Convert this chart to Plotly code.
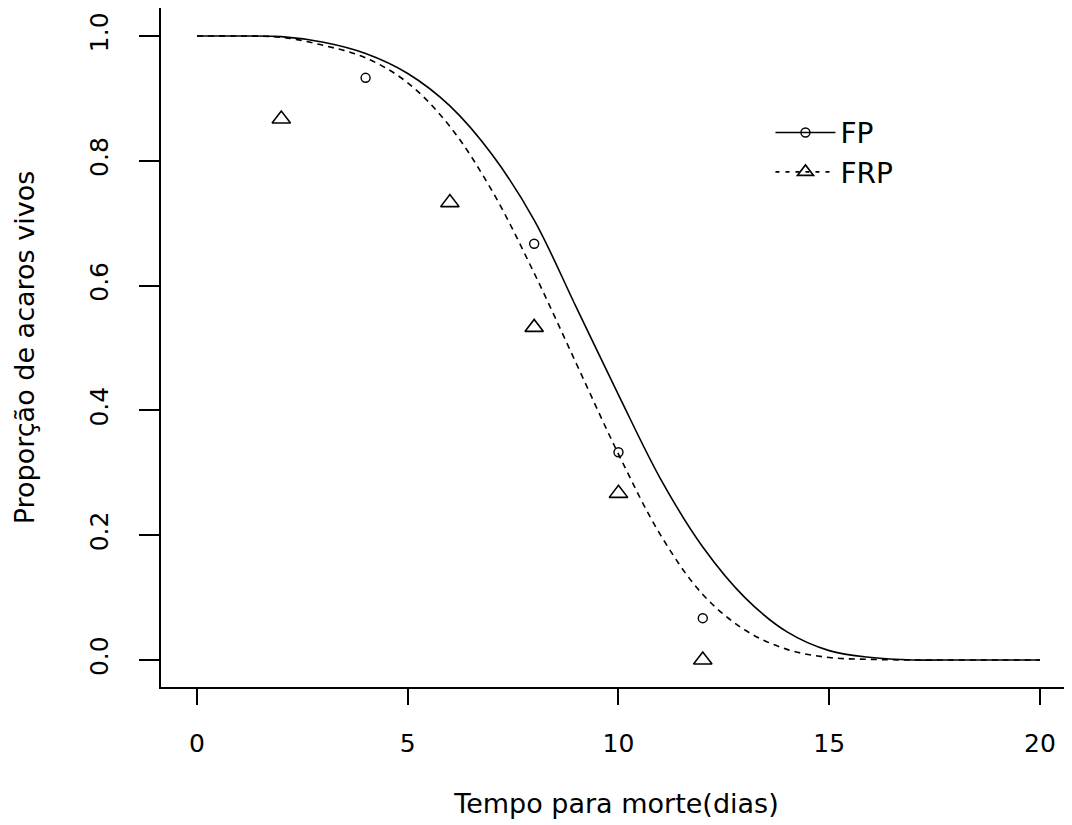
import plotly.graph_objects as go

# Fitted curves
t_curve = [0, 1, 2, 3, 4, 5, 6, 7, 8, 9, 10, 11, 12, 13, 14, 15, 16, 17, 18, 19, 20]
fp_curve = [1.0, 1.0, 0.999, 0.99, 0.972, 0.94, 0.888, 0.81, 0.705, 0.565, 0.425, 0.29,
            0.181, 0.10, 0.045, 0.015, 0.004, 0.0, 0.0, 0.0, 0.0]
frp_curve = [1.0, 1.0, 0.998, 0.985, 0.965, 0.925, 0.855, 0.752, 0.62, 0.475, 0.33, 0.2,
             0.105, 0.048, 0.017, 0.004, 0.001, 0.0, 0.0, 0.0, 0.0]

# Observed points
fp_t = [4, 8, 10, 12]
fp_obs = [0.933, 0.667, 0.333, 0.067]
frp_t = [2, 6, 8, 10, 12]
frp_obs = [0.867, 0.733, 0.533, 0.267, 0.0]

x_ticks = [0, 5, 10, 15, 20]
y_ticks = [0.0, 0.2, 0.4, 0.6, 0.8, 1.0]
y_ticklabels = ["0.0", "0.2", "0.4", "0.6", "0.8", "1.0"]

FONT = "DejaVu Sans, Liberation Sans, Arial, sans-serif"

fig = go.Figure()
fig.add_trace(go.Scatter(x=t_curve, y=fp_curve, mode="lines",
                         line=dict(color="black", width=1.6, shape="spline"),
                         showlegend=False, hoverinfo="skip"))
fig.add_trace(go.Scatter(x=t_curve, y=frp_curve, mode="lines",
                         line=dict(color="black", width=1.6, dash="6px,5px", shape="spline"),
                         showlegend=False, hoverinfo="skip"))
fig.add_trace(go.Scatter(x=fp_t, y=fp_obs, mode="markers",
                         marker=dict(symbol="circle-open", size=9, color="black",
                                     line=dict(width=1.4)),
                         showlegend=False))
fig.add_trace(go.Scatter(x=frp_t, y=frp_obs, mode="markers",
                         marker=dict(symbol="triangle-up-open", size=16, color="black",
                                     line=dict(width=1.6)),
                         showlegend=False))
# legend entries
fig.add_trace(go.Scatter(x=[None], y=[None], mode="lines+markers", name="FP",
                         line=dict(color="black", width=1.6),
                         marker=dict(symbol="circle-open", size=9, color="black",
                                     line=dict(width=1.4))))
fig.add_trace(go.Scatter(x=[None], y=[None], mode="lines+markers", name="FRP",
                         line=dict(color="black", width=1.6, dash="4px,6px"),
                         marker=dict(symbol="triangle-up-open", size=14, color="black",
                                     line=dict(width=1.6))))

fig.update_layout(
    width=1064, height=817,
    margin=dict(l=153, r=0, t=0, b=138),
    paper_bgcolor="white", plot_bgcolor="white",
    font=dict(family=FONT, color="black", size=25),
    showlegend=True,
    legend=dict(x=0.669, y=0.853, xanchor="left", yanchor="top",
                bgcolor="rgba(0,0,0,0)", font=dict(size=28, family=FONT, color="black"),
                itemwidth=60, tracegroupgap=0),
    xaxis=dict(range=[-0.854, 20.76], tickmode="array", tickvals=x_ticks,
               showgrid=False, zeroline=False, showline=True, linecolor="black",
               linewidth=2, ticks="outside", ticklen=16, tickwidth=2,
               tickcolor="black", ticklabelstandoff=17,
               tickfont=dict(size=25, family=FONT, color="black"),
               title=dict(text="Tempo para morte(dias)", standoff=37,
                          font=dict(size=27, family=FONT, color="black"))),
    yaxis=dict(range=[-0.0433, 1.0449], tickmode="array", tickvals=y_ticks,
               ticktext=y_ticklabels, tickangle=-90,
               showgrid=False, zeroline=False, showline=True, linecolor="black",
               linewidth=2, ticks="outside", ticklen=20, tickwidth=2,
               tickcolor="black", ticklabelstandoff=21,
               tickfont=dict(size=25, family=FONT, color="black"),
               title=dict(text="Proporção de acaros vivos", standoff=43,
                          font=dict(size=27, family=FONT, color="black"))),
)

fig.write_html("out.html")
